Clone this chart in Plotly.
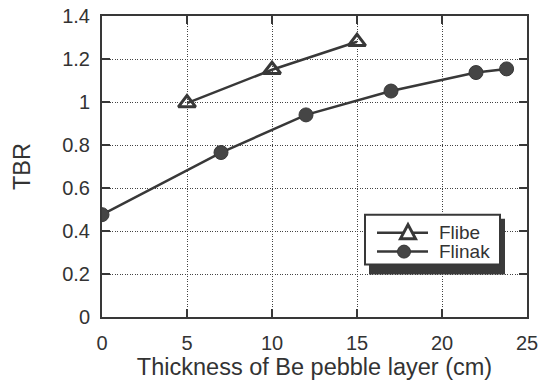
import plotly.graph_objects as go

flibe_x = [5, 10, 15]
flibe_y = [0.995, 1.15, 1.28]
flinak_x = [0, 7, 12, 17, 22, 23.8]
flinak_y = [0.476, 0.765, 0.94, 1.051, 1.137, 1.154]

x_ticks = [0, 5, 10, 15, 20, 25]
y_ticks = [0, 0.2, 0.4, 0.6, 0.8, 1, 1.2, 1.4]
y_tick_text = ["0", "0.2", "0.4", "0.6", "0.8", "1", "1.2", "1.4"]
legend_names = ["Flibe", "Flinak"]

dark = "#383838"
txt = "#333333"
font = "Liberation Sans, Arial, sans-serif"

W, H = 545, 385
L, R, T, B = 102, 18, 16, 67.5
PW, PH = W - L - R, H - T - B


def px(X):
    return (X - L) / PW


def py(Y):
    return (H - B - Y) / PH


fig = go.Figure()
fig.add_trace(go.Scatter(
    x=flibe_x, y=flibe_y, name=legend_names[0], mode="lines+markers",
    line=dict(color=dark, width=2.5),
    marker=dict(symbol="triangle-up-open", size=15, color=dark, line=dict(width=3, color=dark)),
    showlegend=False,
))
fig.add_trace(go.Scatter(
    x=flinak_x, y=flinak_y, name=legend_names[1], mode="lines+markers",
    line=dict(color=dark, width=2.5),
    marker=dict(symbol="circle", size=14, color="#454545", line=dict(width=1, color=dark)),
    showlegend=False,
))

axis_common = dict(
    showline=True, linecolor=dark, linewidth=2, mirror="ticks",
    ticks="inside", ticklen=8, tickwidth=2, tickcolor=dark,
    showgrid=True, gridcolor="#444444", gridwidth=1, griddash="1px,1.5px",
    zeroline=False, automargin=False, ticklabeloverflow="allow",
    tickfont=dict(family=font, size=20, color=txt),
)

fig.update_xaxes(
    range=[0, 25], tickvals=x_ticks, ticktext=[str(v) for v in x_ticks],
    title=dict(text="Thickness of Be pebble layer (cm)", font=dict(family=font, size=23.5, color=txt), standoff=5),
    ticklabelstandoff=7,
    **axis_common,
)
fig.update_yaxes(
    range=[0, 1.4], tickvals=y_ticks, ticktext=y_tick_text,
    title=dict(text="TBR", font=dict(family=font, size=23.5, color=txt), standoff=25),
    ticklabelstandoff=6,
    **axis_common,
)

shapes = []
# legend shadow
shapes.append(dict(type="rect", xref="paper", yref="paper",
                   x0=px(369), x1=px(505), y0=py(275), y1=py(219),
                   fillcolor="#3a3a3a", line=dict(width=0), layer="above"))
# legend box
shapes.append(dict(type="rect", xref="paper", yref="paper",
                   x0=px(365), x1=px(500), y0=py(265), y1=py(215),
                   fillcolor="white", line=dict(width=2, color=dark), layer="above"))
# legend sample lines
for yy in (233, 252):
    shapes.append(dict(type="line", xref="paper", yref="paper",
                       x0=px(377), x1=px(428), y0=py(yy), y1=py(yy),
                       line=dict(width=2.5, color=dark), layer="above"))
# triangle sample
tx, ty = 408, 233
shapes.append(dict(type="path", xref="paper", yref="paper",
                   path=f"M {px(tx-7.5)} {py(ty+6)} L {px(tx+7.5)} {py(ty+6)} L {px(tx)} {py(ty-8)} Z",
                   fillcolor="white", line=dict(width=3, color=dark), layer="above"))
# circle sample
cx, cy = 404, 252
shapes.append(dict(type="circle", xref="paper", yref="paper",
                   x0=px(cx-6.5), x1=px(cx+6.5), y0=py(cy+6.5), y1=py(cy-6.5),
                   fillcolor="#454545", line=dict(width=1, color=dark), layer="above"))

annotations = []
for name, yy in zip(legend_names, (233, 252)):
    annotations.append(dict(text=name, xref="paper", yref="paper",
                            x=px(437), y=py(yy), xanchor="left", yanchor="middle",
                            showarrow=False, font=dict(family=font, size=19, color=txt)))

fig.update_layout(
    width=W, height=H,
    margin=dict(l=L, r=R, t=T, b=B),
    paper_bgcolor="white", plot_bgcolor="white",
    showlegend=False,
    shapes=shapes,
    annotations=annotations,
)

fig.write_html("out.html", config={"displayModeBar": False},
               post_script="document.body.style.margin='0';")
